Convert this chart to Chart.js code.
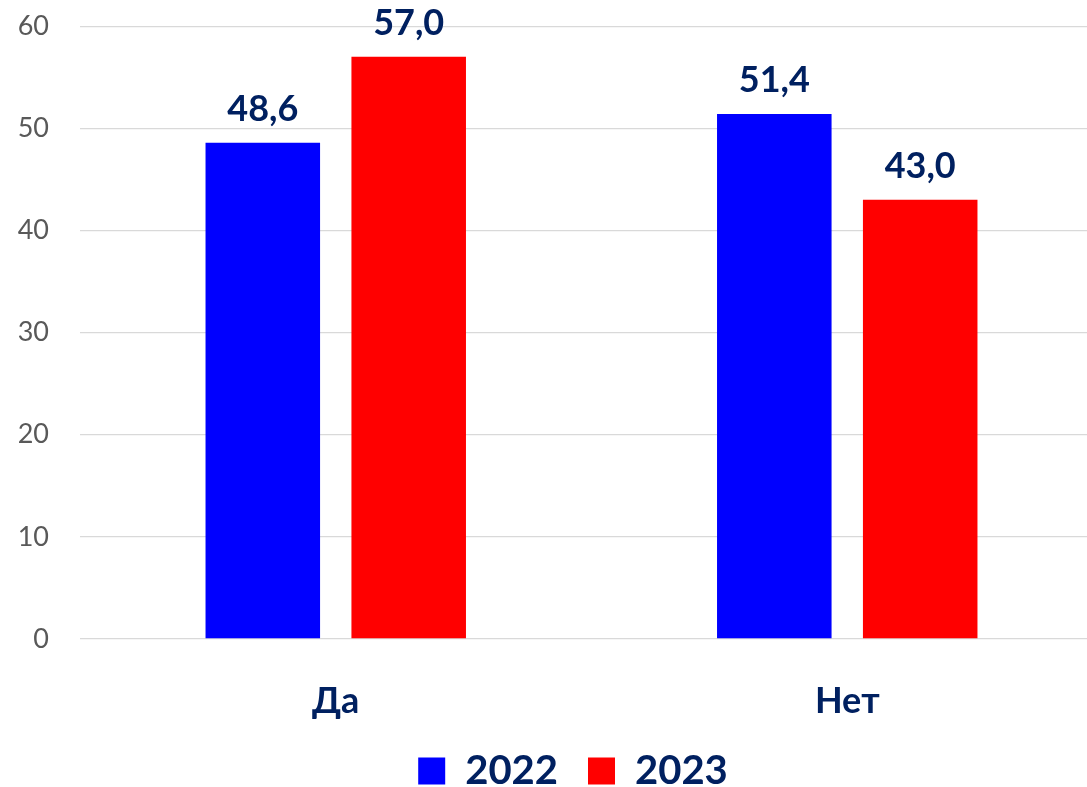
<!DOCTYPE html>
<html>
<head>
<meta charset="utf-8">
<script src="https://cdn.jsdelivr.net/npm/chart.js@4"></script>
<style>
html,body{margin:0;padding:0;overflow:hidden;background:#fff;}
#wrap{position:absolute;left:0;top:-21px;width:1146px;height:822px;}
</style>
</head>
<body>
<div id="wrap"><canvas id="c" width="1146" height="822"></canvas></div>
<script>
const categories = ['Да', 'Нет'];
const seriesNames = ['2022', '2023'];
const values2022 = [48.6, 51.4];
const values2023 = [57.0, 43.0];
const yTicks = [0, 10, 20, 30, 40, 50, 60];

const navy = '#002060';

const valueLabels = {
  id: 'valueLabels',
  afterDatasetsDraw(chart) {
    const ctx = chart.ctx;
    ctx.save();
    ctx.font = 'bold 36px Lato';
    ctx.fillStyle = navy;
    ctx.textAlign = 'center';
    ctx.textBaseline = 'alphabetic';
    chart.data.datasets.forEach((ds, di) => {
      const meta = chart.getDatasetMeta(di);
      meta.data.forEach((bar, i) => {
        const txt = ds.data[i].toFixed(1).replace('.', ',');
        ctx.fillText(txt, bar.x, bar.y - 22);
      });
    });
    ctx.restore();
  }
};

const legendShift = {
  id: 'legendShift',
  afterLayout(chart) {
    if (chart.legend) { chart.legend.left = 43; }
  }
};

new Chart(document.getElementById('c'), {
  type: 'bar',
  data: {
    labels: categories,
    datasets: [
      { label: seriesNames[0], data: values2022, backgroundColor: '#0000FF', borderWidth: 0 },
      { label: seriesNames[1], data: values2023, backgroundColor: '#FF0000', borderWidth: 0 }
    ]
  },
  options: {
    responsive: false,
    animation: false,
    devicePixelRatio: 1,
    categoryPercentage: 0.5705,
    barPercentage: 0.785,
    layout: { padding: { left: 0, right: 43, top: 6, bottom: 0 } },
    plugins: {
      tooltip: { enabled: false },
      legend: {
        position: 'bottom',
        labels: {
          boxWidth: 27,
          boxHeight: 27,
          padding: 30,
          color: navy,
          font: { family: 'Lato', weight: 'bold', size: 40 }
        }
      }
    },
    scales: {
      x: {
        grid: { display: false },
        border: { display: false },
        ticks: {
          color: navy,
          padding: 33,
          font: { family: 'Lato', weight: 'bold', size: 36 }
        },
        afterFit(scale) { scale.height = 82; }
      },
      y: {
        min: 0,
        max: 60,
        afterBuildTicks(scale) { scale.ticks = yTicks.map(v => ({ value: v })); },
        grid: { color: '#d9d9d9', lineWidth: 1.3, drawTicks: false },
        border: { display: false },
        ticks: {
          color: '#595959',
          padding: 31,
          font: { family: 'Lato', size: 27 }
        },
        afterFit(scale) { scale.width = 80; }
      }
    }
  },
  plugins: [valueLabels, legendShift]
});
</script>
</body>
</html>
